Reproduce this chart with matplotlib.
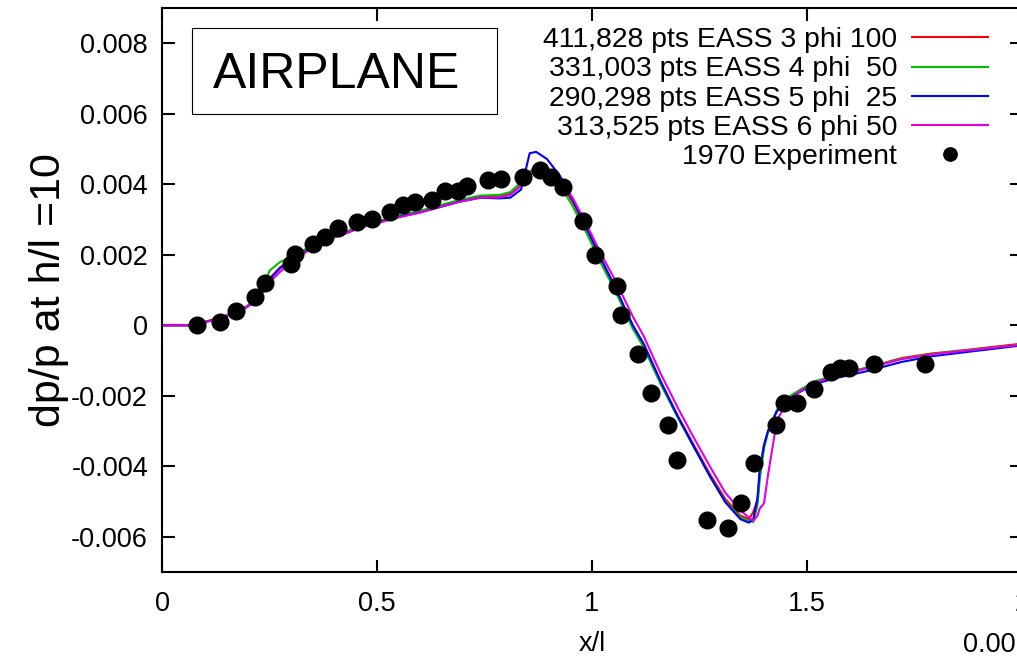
import numpy as np
import matplotlib.pyplot as plt
from matplotlib.ticker import FuncFormatter, MultipleLocator
from matplotlib.patches import Rectangle

plt.rcParams['font.family'] = ['Liberation Sans', 'DejaVu Sans']
plt.rcParams['axes.unicode_minus'] = False

# 1970 experiment, x/l and dp/p (dp/p given in units of 1e-3)
exp_x = [0.081, 0.135, 0.171, 0.216, 0.240, 0.300, 0.309, 0.350, 0.379, 0.410,
         0.454, 0.489, 0.530, 0.560, 0.588, 0.629, 0.658, 0.689, 0.709, 0.758,
         0.788, 0.839, 0.879, 0.904, 0.933, 0.978, 1.008, 1.057, 1.067, 1.107,
         1.137, 1.177, 1.197, 1.267, 1.317, 1.346, 1.377, 1.427, 1.447, 1.476,
         1.516, 1.556, 1.577, 1.598, 1.656, 1.775]
exp_y = [0.00, 0.09, 0.41, 0.81, 1.20, 1.74, 2.01, 2.30, 2.51, 2.76,
         2.92, 3.01, 3.22, 3.41, 3.51, 3.56, 3.82, 3.82, 3.96, 4.12,
         4.16, 4.22, 4.41, 4.22, 3.91, 2.97, 2.00, 1.11, 0.30, -0.81,
         -1.92, -2.82, -3.82, -5.53, -5.74, -5.03, -3.92, -2.83, -2.21, -2.21,
         -1.81, -1.32, -1.20, -1.20, -1.11, -1.11]

# EASS runs, all sampled at the same x/l stations (dp/p in units of 1e-3)
xl = [0, 0.07, 0.11, 0.15, 0.19, 0.22, 0.235, 0.25, 0.275, 0.305,
      0.335, 0.37, 0.40, 0.43, 0.46, 0.49, 0.54, 0.60, 0.69, 0.74,
      0.785, 0.81, 0.835, 0.855, 0.87, 0.895, 0.925, 0.955, 0.99, 1.02,
      1.055, 1.095, 1.12, 1.16, 1.20, 1.235, 1.275, 1.31, 1.345, 1.365,
      1.375, 1.385, 1.39, 1.40, 1.41, 1.43, 1.455, 1.485, 1.52, 1.56,
      1.64, 1.72, 1.79, 1.87, 2.0]
eass3 = [0, 0, 0.13, 0.28, 0.48, 0.72, 1.00, 1.33, 1.65, 1.90,
         2.13, 2.38, 2.53, 2.65, 2.80, 2.89, 3.07, 3.22, 3.52, 3.65,
         3.67, 3.75, 4.04, 4.35, 4.50, 4.41, 4.08, 3.50, 2.66, 1.87,
         1.03, -0.02, -0.55, -1.62, -2.58, -3.36, -4.24, -4.93, -5.40, -5.50,
         -5.30, -4.95, -4.20, -3.40, -2.98, -2.42, -2.08, -1.84, -1.60, -1.45,
         -1.20, -0.93, -0.80, -0.70, -0.52]
eass4 = [0, 0, 0.13, 0.28, 0.48, 0.74, 1.05, 1.55, 1.80, 1.95,
         2.17, 2.40, 2.55, 2.67, 2.82, 2.90, 3.08, 3.25, 3.55, 3.68,
         3.70, 3.78, 4.05, 4.33, 4.47, 4.38, 4.00, 3.38, 2.55, 1.78,
         0.95, -0.10, -0.62, -1.68, -2.63, -3.42, -4.30, -5.00, -5.45, -5.55,
         -5.58, -5.10, -4.40, -3.50, -3.00, -2.40, -2.05, -1.82, -1.58, -1.44,
         -1.20, -0.95, -0.82, -0.71, -0.55]
eass5 = [0, 0, 0.12, 0.26, 0.46, 0.70, 0.98, 1.30, 1.62, 1.88,
         2.10, 2.34, 2.50, 2.62, 2.77, 2.87, 3.05, 3.20, 3.50, 3.62,
         3.60, 3.62, 3.85, 4.88, 4.92, 4.72, 4.25, 3.55, 2.70, 1.92,
         1.05, 0.00, -0.52, -1.60, -2.60, -3.40, -4.30, -5.02, -5.50, -5.60,
         -5.50, -4.90, -4.10, -3.40, -2.98, -2.44, -2.10, -1.88, -1.66, -1.52,
         -1.30, -1.04, -0.88, -0.76, -0.57]
eass6 = [0, 0, 0.12, 0.27, 0.46, 0.70, 0.95, 1.22, 1.52, 1.82,
         2.08, 2.33, 2.50, 2.62, 2.77, 2.86, 3.03, 3.20, 3.50, 3.62,
         3.63, 3.70, 3.95, 4.25, 4.42, 4.40, 4.15, 3.62, 2.80, 2.05,
         1.25, 0.25, -0.30, -1.38, -2.35, -3.15, -4.02, -4.75, -5.25, -5.45,
         -5.55, -5.40, -5.20, -5.05, -4.20, -2.70, -2.15, -1.86, -1.62, -1.47,
         -1.22, -0.96, -0.83, -0.72, -0.55]

runs = [eass3, eass4, eass5, eass6]
labels = ['411,828 pts EASS 3 phi 100', '331,003 pts EASS 4 phi  50',
          '290,298 pts EASS 5 phi  25', '313,525 pts EASS 6 phi 50']
colors = ['#ff0000', '#00c000', '#0000ff', '#e000e0']

fs = 19.5

fig = plt.figure(figsize=(10.17, 6.6), dpi=100)
ax = fig.add_axes([0.1593, 0.1333, 0.8456, 0.8545])

for ys, lab, c in zip(runs, labels, colors):
    ax.plot(xl, np.array(ys) * 1e-3, color=c, lw=1.5, label=lab)
ax.plot(exp_x, np.array(exp_y) * 1e-3, 'o', color='k', ms=12,
        label='1970 Experiment')

ax.set_xlim(0, 2)
ax.set_ylim(-0.007, 0.009)
ax.xaxis.set_major_locator(MultipleLocator(0.5))
ax.yaxis.set_major_locator(MultipleLocator(0.002))
ax.xaxis.set_major_formatter(FuncFormatter(lambda v, p: '%g' % round(v, 6)))
ax.yaxis.set_major_formatter(FuncFormatter(lambda v, p: '%g' % round(v, 6)))
ax.tick_params(direction='in', length=9, width=1.5, top=True, right=True,
               labelsize=fs)
ax.tick_params(axis='x', pad=14)
ax.tick_params(axis='y', pad=10)
for s in ax.spines.values():
    s.set_linewidth(1.5)

ax.set_xlabel('x/l', fontsize=fs, labelpad=10)
ax.set_ylabel('dp/p at h/l =10', fontsize=31)
ax.yaxis.set_label_coords(-0.108, 0.5)

leg = ax.legend(loc='upper right', bbox_to_anchor=(0.9605, 0.966),
                markerfirst=False, frameon=False, fontsize=20.4,
                handlelength=2.7, handletextpad=0.5, labelspacing=0.115,
                borderpad=0, borderaxespad=0, markerscale=0.8)

ax.add_patch(Rectangle((0.0349, 0.812), 0.3546, 0.1525, transform=ax.transAxes,
                       fill=False, lw=0.8, ec='k'))
ax.text(0.0593, 0.882, 'AIRPLANE', transform=ax.transAxes, fontsize=36,
        ha='left', va='center')

fig.text(963 / 1017, 1 - 645 / 660, '0.00', fontsize=fs, ha='left', va='center')

fig.savefig('out.png', dpi=100)
